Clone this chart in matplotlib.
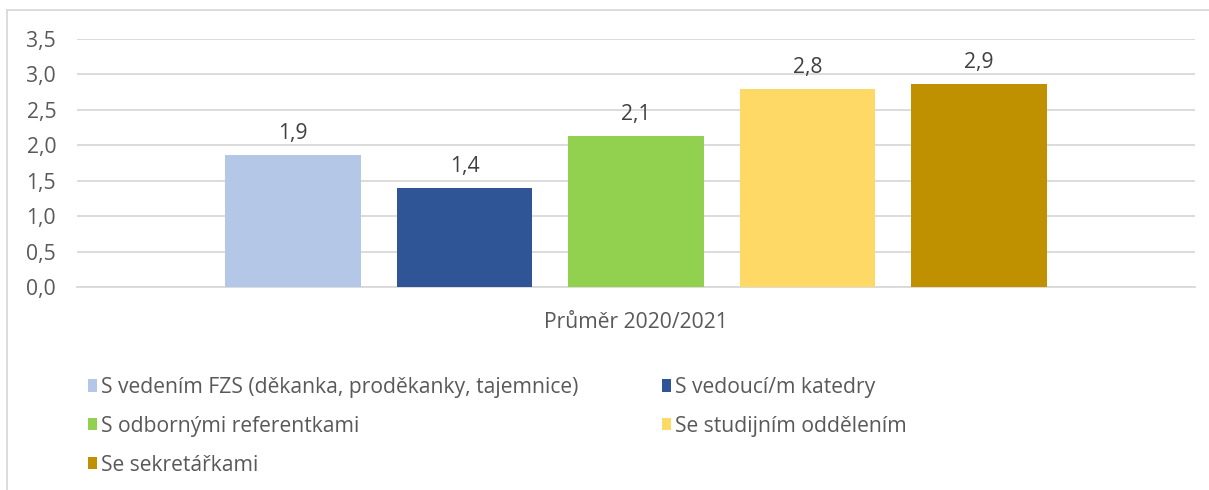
import matplotlib
matplotlib.use("Agg")
import matplotlib.pyplot as plt
from matplotlib.lines import Line2D

plt.rcParams['font.family'] = ['Open Sans', 'DejaVu Sans']

category = "Průměr 2020/2021"
series = ["S vedením FZS (děkanka, proděkanky, tajemnice)", "S vedoucí/m katedry",
          "S odbornými referentkami", "Se studijním oddělením", "Se sekretářkami"]
values = [1.86, 1.40, 2.13, 2.79, 2.86]
labels = ["1,9", "1,4", "2,1", "2,8", "2,9"]
colors = ["#b4c7e7", "#2f5597", "#92d050", "#ffd966", "#bf9000"]
yticks = [0.0, 0.5, 1.0, 1.5, 2.0, 2.5, 3.0, 3.5]
ytick_labels = ["0,0", "0,5", "1,0", "1,5", "2,0", "2,5", "3,0", "3,5"]

W, H = 1209, 490
fig = plt.figure(figsize=(W / 100, H / 100), dpi=100)
ax = fig.add_axes([77 / W, 1 - 287 / H, (1195 - 77) / W, (287 - 39) / H])

txt = "#595959"
fs = 15.2
n = len(values)
handles = []
for i, (v, c, lab, s) in enumerate(zip(values, colors, labels, series)):
    x = i - (n - 1) / 2
    b = ax.bar(x, v, width=0.79, color=c, label=s, zorder=3)
    ax.bar_label(b, labels=[lab], padding=8, fontsize=fs, color="#404040")
    handles.append(b)

ax.set_ylim(0, 3.5)
ax.set_xlim(-3.26, 3.26)
ax.set_yticks(yticks)
ax.set_yticklabels(ytick_labels, fontsize=fs, color=txt)
ax.set_xticks([0])
ax.set_xticklabels([category], fontsize=fs, color=txt)
ax.tick_params(axis='y', length=0, pad=15)
ax.tick_params(axis='x', length=0, pad=18)
ax.grid(axis='y', color="#d9d9d9", linewidth=1.3, zorder=0)
for sp in ["top", "right", "left"]:
    ax.spines[sp].set_visible(False)
ax.spines["bottom"].set_color("#d9d9d9")
ax.spines["bottom"].set_linewidth(1.3)

order = [0, 2, 4, 1, 3]
leg = fig.legend([handles[i] for i in order], [series[i] for i in order],
                 loc="upper left", bbox_to_anchor=(69 / W, 1 - 358 / H), ncol=2,
                 frameon=False, fontsize=fs, handlelength=0.43, handleheight=0.5,
                 handletextpad=0.2, labelspacing=0.85, columnspacing=3.93,
                 labelcolor=txt)

# chart border
fig.add_artist(Line2D([7 / W, 1], [1 - 10 / H, 1 - 10 / H], color="#d9d9d9", lw=1.3))
fig.add_artist(Line2D([7 / W, 7 / W], [0, 1 - 10 / H], color="#d9d9d9", lw=1.3))

fig.savefig("out.png", dpi=100)
